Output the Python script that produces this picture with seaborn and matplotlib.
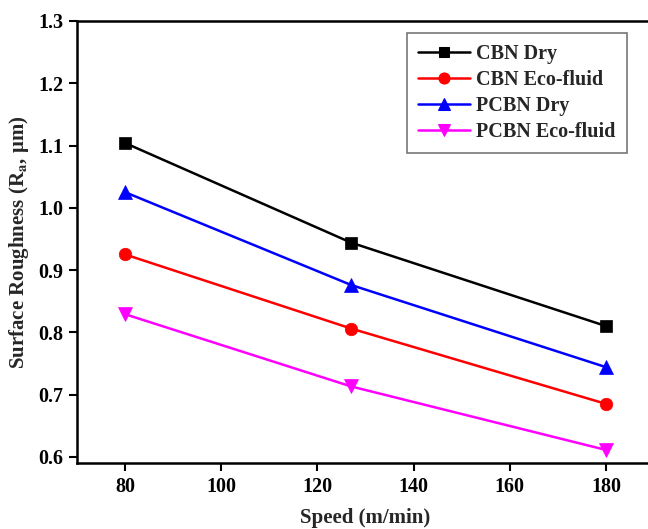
import matplotlib
matplotlib.use("Agg")
import matplotlib.pyplot as plt
import seaborn as sns
import pandas as pd

# Cutting speed (m/min) and measured surface roughness Ra (µm)
speed = [80, 127, 180]
cbn_dry = [1.104, 0.944, 0.810]
cbn_eco = [0.925, 0.806, 0.685]
pcbn_dry = [1.025, 0.876, 0.744]
pcbn_eco = [0.829, 0.713, 0.611]

series_names = ["CBN Dry", "CBN Eco-fluid", "PCBN Dry", "PCBN Eco-fluid"]
series_values = [cbn_dry, cbn_eco, pcbn_dry, pcbn_eco]
colors = ["#000000", "#ff0000", "#0000ff", "#ff00ff"]
markers = ["s", "o", "^", "v"]
marker_sizes = [8.5, 9, 10, 10]

rows = []
for name, vals in zip(series_names, series_values):
    for s, v in zip(speed, vals):
        rows.append({"Speed": s, "Ra": v, "Series": name})
df = pd.DataFrame(rows)

sns.set_style("ticks")
plt.rcParams["font.family"] = ["Liberation Serif", "DejaVu Serif"]
plt.rcParams["font.weight"] = "bold"
plt.rcParams["mathtext.fontset"] = "stix"

fig = plt.figure(figsize=(6.48, 5.29), dpi=100)
ax = fig.add_axes([77 / 648, 1 - 463 / 529, (654 - 77) / 648, (463 - 21) / 529])

sns.lineplot(
    data=df, x="Speed", y="Ra", hue="Series", style="Series",
    hue_order=series_names, style_order=series_names,
    palette=colors, markers=markers, dashes=False,
    markersize=9, linewidth=1.8, ax=ax,
)

# solid markers without the default white rim
for line, ms in zip(ax.get_lines(), marker_sizes):
    line.set_markeredgecolor(line.get_color())
    line.set_markeredgewidth(0.5)
    line.set_markersize(ms)

ax.set_xlim(70, 190)
ax.set_ylim(0.59, 1.3)
ax.set_xticks([80, 100, 120, 140, 160, 180])
yticks = [0.6, 0.7, 0.8, 0.9, 1.0, 1.1, 1.2, 1.3]
ax.set_yticks(yticks)
ax.set_yticklabels([f"{v:.1f}" for v in yticks])

for side in ["left", "bottom", "top"]:
    ax.spines[side].set_linewidth(1.8)
    ax.spines[side].set_color("black")
ax.spines["right"].set_visible(False)

ax.tick_params(axis="both", direction="out", length=6, width=1.5,
               labelsize=14.5, colors="black", pad=4)
for lbl in ax.get_xticklabels() + ax.get_yticklabels():
    lbl.set_fontweight("bold")

ax.set_xlabel("Speed (m/min)", fontsize=15, fontweight="bold", labelpad=8)
ax.set_ylabel(r"Surface Roughness (R$_{\mathbf{a}}$, μm)", fontsize=15,
              fontweight="bold", labelpad=5)

handles, labels = ax.get_legend_handles_labels()
leg = ax.legend(
    handles, labels, loc="upper left",
    bbox_to_anchor=((407 - 77) / (654 - 77), 1 - (33 - 21) / (463 - 21)),
    prop={"family": "Liberation Serif", "weight": "bold", "size": 14.5},
    frameon=True, fancybox=False, edgecolor="#555555",
    handlelength=2.6, labelspacing=0.3, borderpad=0.55, handletextpad=0.3,
    borderaxespad=0,
)
leg.get_frame().set_linewidth(1.2)
for txt in leg.get_texts():
    txt.set_fontweight("bold")
for h, ms in zip(leg.legend_handles, marker_sizes):
    h.set_markeredgecolor(h.get_color())
    h.set_markersize(ms - 1)
    h.set_linewidth(1.8)

fig.savefig("out.png", dpi=100, facecolor="white")
